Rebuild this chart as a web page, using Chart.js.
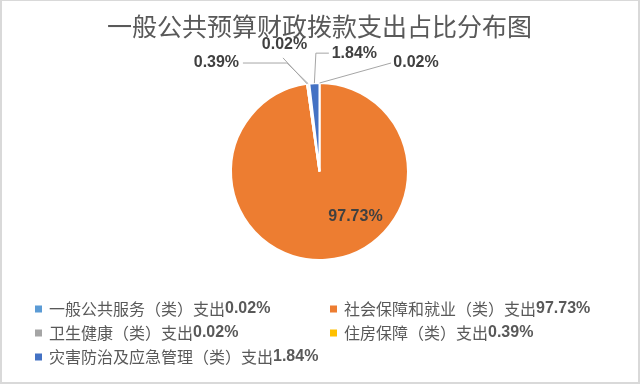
<!DOCTYPE html>
<html><head><meta charset="utf-8">
<script src="https://cdn.jsdelivr.net/npm/chart.js@4/dist/chart.umd.min.js"></script>
<style>html,body{margin:0;padding:0;background:#fff;} #wrap{width:640px;height:384px;position:relative;}</style>
</head><body><div id="wrap"><canvas id="c" width="640" height="384"></canvas></div>
<script>
const chartTitle = '一般公共预算财政拨款支出占比分布图';
const categories = ['一般公共服务（类）支出','社会保障和就业（类）支出','卫生健康（类）支出','住房保障（类）支出','灾害防治及应急管理（类）支出'];
const shares = [0.02, 97.73, 0.02, 0.39, 1.84];
const colors = ['#5B9BD5','#ED7D31','#A5A5A5','#FFC000','#4472C4'];

// label placement (style): offsets from each slice's outer anchor; line points relative to label centre
const labelStyle = [
  {dx: 96.5, dy: -20, line: [[-25, 0]]},
  {inside: true, dx: 36, dy: 45.5},
  {dx: -22.6, dy: -39, line: [[-1.5, 13]]},
  {dx: -91.8, dy: -20.7, line: [[70.5, 0], [26.5, 0]]},
  {dx: 40, dy: -30, line: [[-38.5, 0], [-25.5, 0]]}
];
const legendCols = [35, 330];
const legendRows = [309, 333, 357];
const fmt = v => v.toFixed(2) + '%';

const decorPlugin = {
  id: 'decor',
  beforeDraw(chart) {
    const ctx = chart.ctx;
    ctx.save();
    ctx.fillStyle = '#fff';
    ctx.fillRect(0, 0, chart.width, chart.height);
    ctx.restore();
  },
  afterDatasetsDraw(chart) {
    const ctx = chart.ctx;
    const meta = chart.getDatasetMeta(0);
    ctx.save();
    meta.data.forEach((arc, i) => {
      const p = arc.getProps(['x', 'y', 'startAngle', 'endAngle', 'outerRadius'], true);
      const st = labelStyle[i];
      let lx, ly;
      if (st.inside) {
        lx = p.x + st.dx; ly = p.y + st.dy;
      } else {
        const mid = (p.startAngle + p.endAngle) / 2;
        const ax = p.x + Math.cos(mid) * p.outerRadius;
        const ay = p.y + Math.sin(mid) * p.outerRadius;
        lx = ax + st.dx; ly = ay + st.dy;
        ctx.beginPath();
        ctx.strokeStyle = '#A6A6A6';
        ctx.lineWidth = 1;
        ctx.moveTo(ax, ay);
        st.line.forEach(o => ctx.lineTo(lx + o[0], ly + o[1]));
        ctx.stroke();
      }
      ctx.font = 'bold 16px "Liberation Sans", Arial, sans-serif';
      ctx.fillStyle = '#404040';
      ctx.textAlign = 'center';
      ctx.textBaseline = 'middle';
      ctx.fillText(fmt(shares[i]), lx, ly);
    });
    ctx.restore();
  },
  afterDraw(chart) {
    const ctx = chart.ctx;
    ctx.save();
    categories.forEach((name, i) => {
      const x = legendCols[i % 2];
      const y = legendRows[Math.floor(i / 2)];
      ctx.fillStyle = colors[i];
      ctx.fillRect(x, y - 3.5, 7, 7);
      ctx.textAlign = 'left';
      ctx.textBaseline = 'middle';
      ctx.fillStyle = '#595959';
      ctx.font = '16px "Noto Sans CJK SC", sans-serif';
      ctx.fillText(name, x + 14, y);
      const w = ctx.measureText(name).width;
      ctx.font = 'bold 16px "Liberation Sans", Arial, sans-serif';
      ctx.fillText(fmt(shares[i]), x + 14 + w, y);
    });
    // outer frame
    ctx.fillStyle = '#D9D9D9';
    ctx.fillRect(0, 0, 2, chart.height);
    ctx.fillRect(chart.width - 2, 0, 2, chart.height);
    ctx.fillRect(0, 0, chart.width, 1);
    ctx.fillRect(0, chart.height - 2, chart.width, 2);
    ctx.restore();
  }
};

new Chart(document.getElementById('c'), {
  type: 'pie',
  data: {
    labels: categories,
    datasets: [{data: shares, backgroundColor: colors, borderColor: '#fff', borderWidth: 2}]
  },
  options: {
    responsive: false,
    animation: false,
    layout: {padding: {top: 0, bottom: 123, left: 0, right: 1}},
    plugins: {
      legend: {display: false},
      tooltip: {enabled: false},
      title: {
        display: true,
        text: chartTitle,
        color: '#595959',
        font: {family: '"Noto Sans CJK SC", sans-serif', size: 25, weight: 'normal'},
        padding: {top: 11, bottom: 41}
      }
    }
  },
  plugins: [decorPlugin]
});
</script></body></html>
